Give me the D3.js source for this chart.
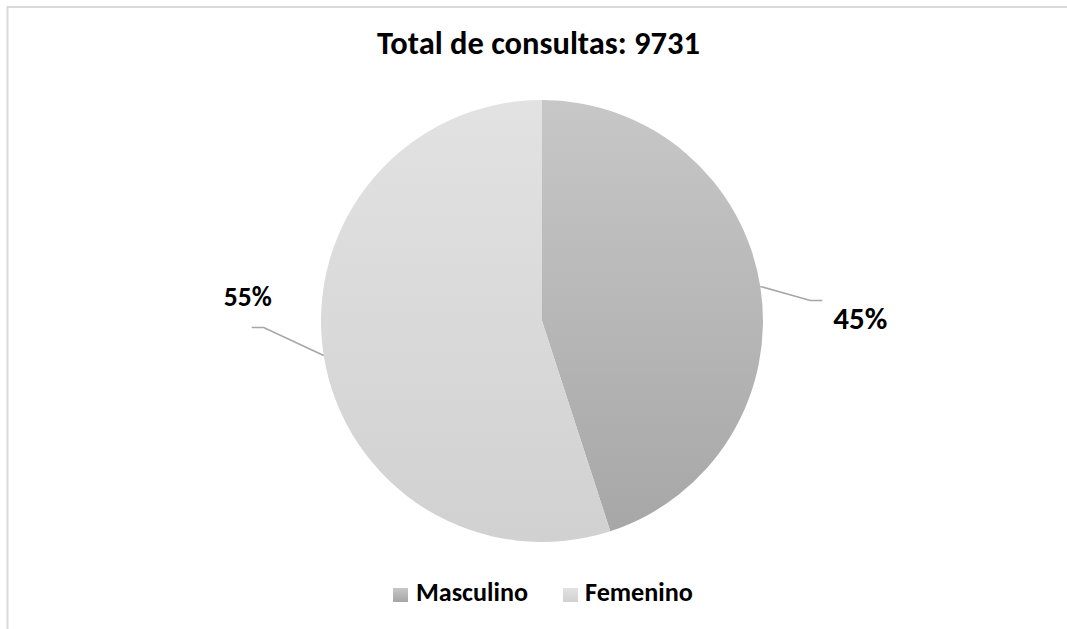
<!DOCTYPE html>
<html>
<head>
<meta charset="utf-8">
<script src="https://cdn.jsdelivr.net/npm/d3@7"></script>
<style>
  html, body { margin: 0; padding: 0; background: #fff; }
  svg { display: block; }
  text { font-family: Carlito, Lato, "Open Sans", sans-serif; font-weight: bold; fill: #000; }
</style>
</head>
<body>
<svg id="chart" width="1067" height="629"></svg>
<script>
// Consultas por sexo (porcentaje del total)
const title = "Total de consultas: 9731";
const categories = ["Masculino", "Femenino"];
const percentages = [45, 55];
const gradientStops = [["#c7c7c7", "#a6a6a6"], ["#e2e2e2", "#d1d1d1"]];

const W = 1067, H = 629;
const svg = d3.select("#chart");
const cx = 542, cy = 321, radius = 221;

// fit a text element to a target width by adjusting font size
function fitWidth(sel, target) {
  const fs = parseFloat(sel.attr("font-size"));
  const w = sel.node().getComputedTextLength();
  sel.attr("font-size", (fs * target / w).toFixed(2));
}

// chart area frame
svg.append("rect")
  .attr("x", 7.5).attr("y", 7)
  .attr("width", W + 20).attr("height", H + 20)
  .attr("fill", "#fff")
  .attr("stroke", "#d9d9d9").attr("stroke-width", 2);

const defs = svg.append("defs");
categories.forEach((c, i) => {
  const g = defs.append("linearGradient")
    .attr("id", "grad" + i)
    .attr("gradientUnits", "userSpaceOnUse")
    .attr("x1", 0).attr("y1", -radius).attr("x2", 0).attr("y2", radius);
  g.append("stop").attr("offset", "0%").attr("stop-color", gradientStops[i][0]);
  g.append("stop").attr("offset", "100%").attr("stop-color", gradientStops[i][1]);
  const gl = defs.append("linearGradient")
    .attr("id", "legGrad" + i)
    .attr("x1", 0).attr("y1", 0).attr("x2", 0).attr("y2", 1);
  gl.append("stop").attr("offset", "0%").attr("stop-color", gradientStops[i][0]);
  gl.append("stop").attr("offset", "100%").attr("stop-color", gradientStops[i][1]);
});

// title
const t = svg.append("text")
  .attr("x", 538.5).attr("y", 53.5)
  .attr("text-anchor", "middle")
  .attr("font-size", 26)
  .text(title);
fitWidth(t, 323);

// pie
const pie = d3.pie().sort(null).value(d => d.value);
const data = pie(categories.map((c, i) => ({ name: c, value: percentages[i] })));
const arc = d3.arc().innerRadius(0).outerRadius(radius);

const pg = svg.append("g").attr("transform", `translate(${cx},${cy})`);
pg.selectAll("path.slice")
  .data(data)
  .join("path")
  .attr("class", "slice")
  .attr("d", arc)
  .attr("fill", (d, i) => `url(#grad${i})`);

// leader lines and labels
const total = d3.sum(percentages);
const labelSpecs = [
  { elbow: [50, 14], end: [62, 14], text: [100, 43], size: 28, width: 54 },
  { elbow: [-60, -28], end: [-72, -28], text: [-76, -50], size: 24, width: 48 }
];
data.forEach((d, i) => {
  const mid = (d.startAngle + d.endAngle) / 2;
  const sx = radius * Math.sin(mid), sy = -radius * Math.cos(mid);
  const s = labelSpecs[i];
  pg.append("polyline")
    .attr("points", [[sx, sy], [sx + s.elbow[0], sy + s.elbow[1]], [sx + s.end[0], sy + s.end[1]]].map(p => p.join(",")).join(" "))
    .attr("fill", "none")
    .attr("stroke", "#a6a6a6")
    .attr("stroke-width", 1.6);
  const lbl = pg.append("text")
    .attr("x", sx + s.text[0]).attr("y", sy + s.text[1])
    .attr("text-anchor", "middle")
    .attr("font-size", s.size)
    .text(Math.round(d.data.value / total * 100) + "%");
  fitWidth(lbl, s.width);
});

// legend
const legendItems = [
  { sq: 393, tx: 416, w: 112 },
  { sq: 563, tx: 585, w: 108 }
];
const lg = svg.append("g");
categories.forEach((c, i) => {
  lg.append("rect")
    .attr("x", legendItems[i].sq).attr("y", 588)
    .attr("width", 15).attr("height", 14)
    .attr("fill", `url(#legGrad${i})`);
  const tx = lg.append("text")
    .attr("x", legendItems[i].tx).attr("y", 601)
    .attr("font-size", 22)
    .text(c);
  fitWidth(tx, legendItems[i].w);
});
</script>
</body>
</html>
